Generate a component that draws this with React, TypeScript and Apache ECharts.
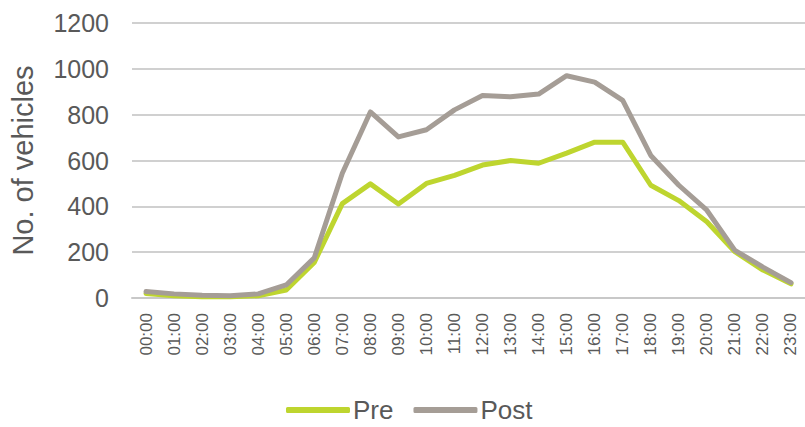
import React, { useEffect, useRef } from "react";
import * as echarts from "echarts";

const categories = [
  "00:00", "01:00", "02:00", "03:00", "04:00", "05:00", "06:00", "07:00",
  "08:00", "09:00", "10:00", "11:00", "12:00", "13:00", "14:00", "15:00",
  "16:00", "17:00", "18:00", "19:00", "20:00", "21:00", "22:00", "23:00",
];
const preValues = [20, 10, 5, 5, 10, 35, 155, 412, 498, 410, 500, 535, 580, 600, 588, 632, 680, 680, 492, 425, 333, 202, 122, 62];
const postValues = [28, 18, 12, 10, 18, 57, 175, 544, 812, 703, 734, 821, 884, 878, 890, 970, 942, 862, 622, 492, 383, 208, 135, 67];
const yTicks = { min: 0, max: 1200, interval: 200 };

export default function App() {
  const ref = useRef<HTMLDivElement>(null);
  useEffect(() => {
    if (!ref.current) return;
    const chart = echarts.init(ref.current, null, { renderer: "svg" });
    const font = "'Liberation Sans', Arial, sans-serif";
    chart.setOption({
      animation: false,
      textStyle: { fontFamily: font },
      grid: { left: 131, right: 0, top: 23, bottom: 129, containLabel: false },
      legend: {
        left: 286,
        top: 397,
        padding: 0,
        icon: "roundRect",
        itemWidth: 64,
        itemHeight: 6,
        itemGap: 20,
        textStyle: { fontSize: 26, color: "#595959", fontFamily: font, padding: [0, 0, 0, -2] },
        data: ["Pre", "Post"],
      },
      xAxis: {
        type: "category",
        data: categories,
        boundaryGap: true,
        axisLine: { show: true, lineStyle: { color: "#c8c8c8", width: 2 } },
        axisTick: { show: false },
        axisLabel: {
          rotate: 90,
          interval: 0,
          margin: 15,
          fontSize: 17,
          color: "#595959",
          fontFamily: font,
        },
      },
      yAxis: {
        type: "value",
        min: yTicks.min,
        max: yTicks.max,
        interval: yTicks.interval,
        name: "No. of vehicles",
        nameLocation: "middle",
        nameGap: 95,
        nameTextStyle: { fontSize: 29, color: "#595959", fontFamily: font },
        axisLine: { show: false },
        axisTick: { show: false },
        axisLabel: {
          fontSize: 25,
          color: "#595959",
          margin: 23,
          fontFamily: font,
          formatter: (v: number) => String(v),
        },
        splitLine: { lineStyle: { color: "#d0d0d0", width: 2 } },
      },
      series: [
        {
          name: "Pre",
          type: "line",
          data: preValues,
          symbol: "none",
          lineStyle: { color: "#bed52f", width: 5, join: "round", cap: "round" },
          itemStyle: { color: "#bed52f" },
        },
        {
          name: "Post",
          type: "line",
          data: postValues,
          symbol: "none",
          lineStyle: { color: "#a59d96", width: 5, join: "round", cap: "round" },
          itemStyle: { color: "#a59d96" },
        },
      ],
    });
    return () => chart.dispose();
  }, []);
  return (
    <div
      ref={ref}
      style={{ position: "fixed", left: 0, top: 0, width: 805, height: 427, background: "#fff" }}
    />
  );
}
